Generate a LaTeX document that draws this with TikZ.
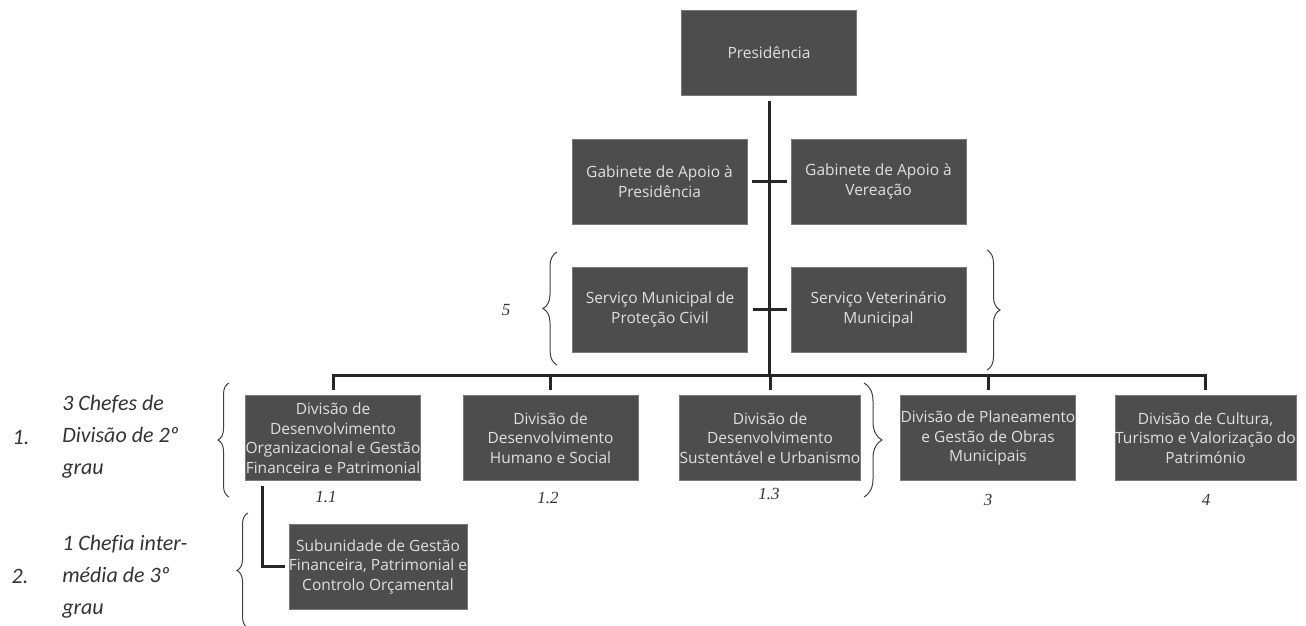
\documentclass[tikz,border=0pt]{standalone}
\usepackage{fontspec}
\setmainfont{Carlito}[Ligatures=NoCommon]
\newfontfamily\boxfont{Open Sans}
\newfontfamily\numfont{Liberation Serif}
\usepackage{tikz}
\usetikzlibrary{positioning,calc,decorations.pathreplacing}
\definecolor{unitgray}{RGB}{77,77,77}
\definecolor{unittext}{RGB}{224,224,224}
\tikzset{
    every picture/.style={line width=0.5pt},
    unit/.style={rectangle,fill=unitgray,draw=unitgray!75!white,line width=0.6pt,minimum width=175pt,minimum height=85pt,inner sep=0pt,align=center,text=unittext,font=\boxfont\fontsize{15.5}{19.5}\selectfont},
    link/.style={line width=3pt,black!85},
    numlabel/.style={font=\numfont\itshape\fontsize{17}{20}\selectfont,text=black!80},
    note/.style={font=\itshape\fontsize{22}{32}\selectfont,text=black!80,align=left,anchor=west,inner sep=0pt},
    grpbrace/.style={decorate,decoration={brace,amplitude=#1},line width=1pt,black!75},
    grpbrace/.default=14pt
}

\begin{document}
\begin{tikzpicture}[x=1pt,y=-1pt]
        \useasboundingbox (0,0) rectangle (1306,626);

        % Units
        \node[unit] (pres) at (769,53) {Presidência};
        \node[unit] (gabP) at (659.5,181.5) {Gabinete de Apoio à\\Presidência};
        \node[unit] (gabV) at (878.5,181.5) {Gabinete de Apoio à\\Vereação};
        \node[unit] (smpc) at (660,309.5) {Serviço Municipal de\\Proteção Civil};
        \node[unit] (svm) at (878.5,309.5) {Serviço Veterinário\\Municipal};

        \node[unit] (div1) at (333,438) {Divisão de\\Desenvolvimento\\Organizacional e Gestão\\Financeira e Patrimonial};
        \node[unit] (div2) at (550.5,438) {Divisão de\\Desenvolvimento\\Humano e Social};
        \node[unit] (div3) at (770,438) {Divisão de\\Desenvolvimento\\Sustentável e Urbanismo};
        \node[unit] (div4) at (988,438) {Divisão de Planeamento\\e Gestão de Obras\\Municipais};
        \node[unit] (div5) at (1205.5,438) {Divisão de Cultura,\\Turismo e Valorização do\\Património};

        \node[unit] (sub) at (378,566.5) {Subunidade de Gestão\\Financeira, Patrimonial e\\Controlo Orçamental};

        % Connectors
        \coordinate (bus) at (769,375);
        \draw[link,shorten <=5pt] (pres.south) -- (bus);
        \draw[link,shorten <=5pt,shorten >=5pt] (div1.north) |- (bus) -| (div5.north);
        \foreach \d in {div2,div3,div4}
            \draw[link,shorten <=5pt] (\d.north) -- (\d.north |- bus);
        \draw[link,shorten <=5pt,shorten >=4pt] (gabP) -- (gabV);
        \draw[link,shorten <=5pt,shorten >=4pt] (smpc) -- (svm);
        \draw[link,shorten <=5pt,shorten >=4pt] ([xshift=17pt]div1.south west) |- (sub.west);

        % Numbers
        \node[numlabel] (lab11) at (326,497) {1.1};
        \node[numlabel] (lab12) at (548,498) {1.2};
        \node[numlabel] (lab13) at (769,494) {1.3};
        \node[numlabel] (lab3) at (988,500) {3};
        \node[numlabel] (lab4) at (1206,500) {4};
        \node[numlabel] (lab5) at (506,310) {5};

        % Braces
        \draw[grpbrace] (557,365) -- (557,252);
        \draw[grpbrace=13pt] (987,250) -- (987,370);
        \draw[grpbrace=11pt] (229,497) -- (229,383);
        \draw[grpbrace=11pt] (248,628) -- (248,513);
        \draw[grpbrace=18pt] (864,383) -- (864,497);

        % Notes on the left
        \node[note,anchor=center] (item1) at (21,438) {1.};
        \node[note] (grp1) at (62,437) {3 Chefes de\\Divisão de 2º\\grau};
        \node[note,anchor=center] (item2) at (20,576) {2.};
        \node[note] (grp2) at (62,577) {1 Chefia inter-\\média de 3º\\grau};
    \end{tikzpicture}
\end{document}
